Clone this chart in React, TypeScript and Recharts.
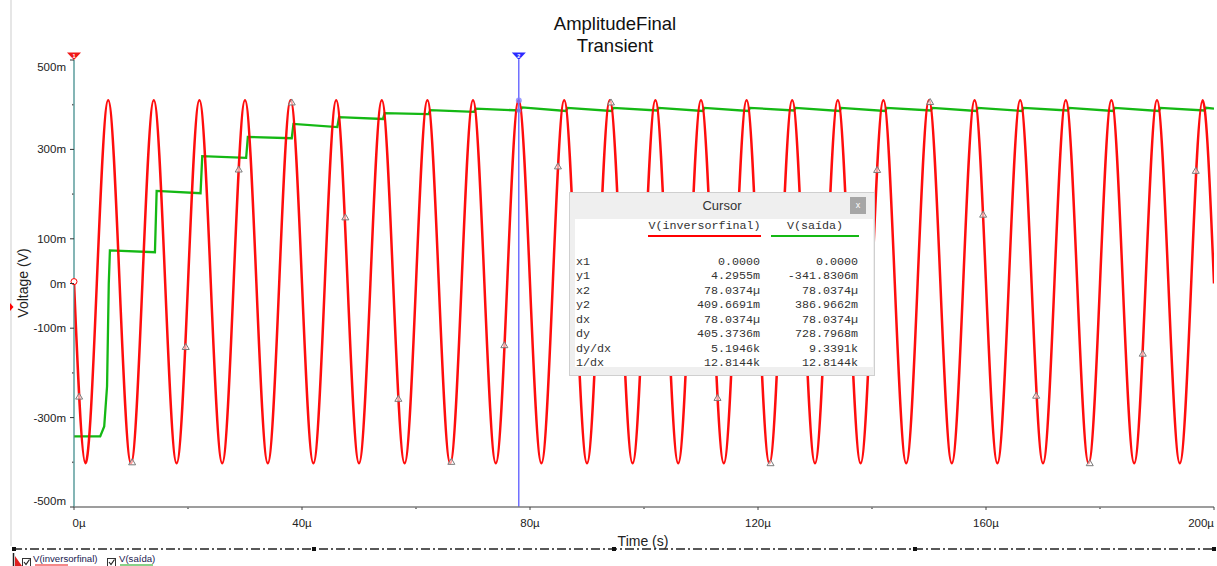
import React from 'react';
import { ComposedChart, Line, XAxis, YAxis, ReferenceLine, ReferenceDot } from 'recharts';

// V(inversorfinal) in mV, one sample every 2 µs
const RED_STEP_US = 2;
const redVoltage = [
  4, -402, 0, 410, 0, -402, 0, 410,
  0, -402, 0, 410, 0, -402, 0, 410,
  0, -402, 0, 410, 0, -402, 0, 410,
  0, -402, 0, 410, 0, -402, 0, 410,
  0, -402, 0, 410, 0, -402, 0, 410,
  0, -402, 0, 410, 0, -402, 0, 410,
  0, -402, 0, 410, 0, -402, 0, 410,
  0, -402, 0, 410, 0, -402, 0, 410,
  0, -402, 0, 410, 0, -402, 0, 410,
  0, -402, 0, 410, 0, -402, 0, 410,
  0, -402, 0, 410, 0, -402, 0, 410,
  0, -402, 0, 410, 0, -402, 0, 410,
  0, -402, 0, 410,
  0,
];

// V(saída) in mV, peak detector output
const greenTime = [
  0, 4.6, 5.3, 5.8, 6.1, 6.3,
  14.2, 14.5, 22.2, 22.5, 30.2, 30.5, 38.2, 38.5,
  46.2, 46.5, 54.2, 54.5, 62.2, 62.5, 70.2, 70.5,
  78.3, 78.6, 86.3, 86.6, 94.3, 94.6, 102.3, 102.6,
  110.3, 110.6, 118.3, 118.6, 126.3, 126.6, 134.3, 134.6,
  142.3, 142.6, 150.3, 150.6, 158.3, 158.6, 166.3, 166.6,
  174.3, 174.6, 182.3, 182.6, 190.3, 190.6, 198.3, 198.6,
  200,
];
const greenVoltage = [
  -342, -342, -320, -230, 0, 74,
  70, 207, 202, 285, 281, 328, 325, 357,
  350, 372, 368, 381, 379, 388, 384, 391,
  387, 394, 386, 393, 386, 393, 387, 393,
  386, 393, 386, 393, 387, 393, 386, 393,
  386, 393, 387, 393, 386, 393, 386, 393,
  387, 393, 386, 393, 386, 393, 387, 393,
  391,
];

// trace markers drawn on V(inversorfinal)
const markerTime = [
  0.9, 10.2, 19.6, 28.9, 38.2, 47.6, 56.9, 66.2, 75.5, 84.9, 94.2,
  103.5, 112.9, 122.2, 131.5, 140.9, 150.2, 159.5, 168.8, 178.2, 187.5, 196.8,
];
const markerVoltage = [
  -253, -400, -142, 255, 405, 148, -258, -399, -138, 262, 405,
  148, -256, -402, -151, 254, 406, 154, -251, -402, -157, 252,
];

const xTickValues = [0, 40, 80, 120, 160, 200];
const xMinorTicks = [20, 60, 100, 140, 180];
const yTickValues = [-500, -300, -100, 0, 100, 300, 500];
const yMinorTicks = [-400, -200, 200, 400];

// cursor readout
const cursorTime = [0, 78.0374];
const cursorRed = [4.2955, 409.6691];
const cursorGreen = [-341.8306, 386.9662];
const tableLabels = ['x1', 'y1', 'x2', 'y2', 'dx', 'dy', 'dy/dx', '1/dx'];
const tableRed = ['0.0000', '4.2955m', '78.0374µ', '409.6691m', '78.0374µ', '405.3736m', '5.1946k', '12.8144k'];
const tableGreen = ['0.0000', '-341.8306m', '78.0374µ', '386.9662m', '78.0374µ', '728.7968m', '9.3391k', '12.8144k'];

const SANS = '"Liberation Sans", Arial, sans-serif';
const MONO = '"Liberation Mono", "Courier New", monospace';
const RED = '#ff0000';
const GREEN = '#14b814';

const redData = redVoltage.map((v, i) => ({ t: i * RED_STEP_US, v }));
const greenData = greenTime.map((t, i) => ({ t, v: greenVoltage[i] }));
const markerData = markerTime.map((t, i) => ({ t, v: markerVoltage[i] }));

const YTick = ({ x, y, payload }: any) => {
  const v = payload.value as number;
  if (!yTickValues.includes(v)) {
    return <rect x={x - 2} y={y - 0.75} width={1.5} height={1.5} fill="#666" />;
  }
  const shift = v === 500 ? 7 : v === -500 ? -6 : 0;
  return (
    <g>
      <line x1={x - 4} x2={x} y1={y} y2={y} stroke="#333" />
      <text x={x - 8} y={y + shift + 4} textAnchor="end" fontSize={11.5} fill="#222" fontFamily={SANS}>
        {v}m
      </text>
    </g>
  );
};

const XTick = ({ x, y, payload }: any) => {
  const v = payload.value as number;
  if (!xTickValues.includes(v)) {
    return <rect x={x - 0.75} y={y + 0.5} width={1.5} height={1.5} fill="#666" />;
  }
  const first = v === xTickValues[0];
  const last = v === xTickValues[xTickValues.length - 1];
  return (
    <g>
      <line x1={x} x2={x} y1={y} y2={y + 3} stroke="#444" />
      <text
        x={first ? x - 1.5 : x}
        y={y + 20}
        textAnchor={first ? 'start' : last ? 'end' : 'middle'}
        fontSize={11.5}
        fill="#222"
        fontFamily={SANS}
      >
        {v}µ
      </text>
    </g>
  );
};

const Flag = ({ cx, cy, color, num }: any) => (
  <g>
    <polygon points={`${cx - 7},${cy - 7.5} ${cx + 7},${cy - 7.5} ${cx},${cy}`} fill={color} />
    <text x={cx} y={cy - 2.5} textAnchor="middle" fontSize={5.5} fill="#fff" fontFamily={SANS} fontWeight="bold">
      {num}
    </text>
  </g>
);

const TraceMarker = (p: any) => (
  <polygon
    key={`m${p.index}`}
    points={`${p.cx},${p.cy - 3.5} ${p.cx - 3.5},${p.cy + 2.5} ${p.cx + 3.5},${p.cy + 2.5}`}
    fill="#fff"
    fillOpacity={0.6}
    stroke="#7a7a7a"
    strokeWidth={1}
  />
);

const CheckBox = ({ x }: { x: number }) => (
  <g>
    <rect x={x} y={558.5} width={8} height={8} fill="#fff" stroke="#333" />
    <path d={`M${x + 1.5},${562} L${x + 3.5},${564.5} L${x + 7},${559.5}`} fill="none" stroke="#222" strokeWidth={1.2} />
  </g>
);

const CursorPanel = () => {
  const rowTop = (i: number) => 36 + i * 14.45;
  const cell: React.CSSProperties = { position: 'absolute', lineHeight: '14px', whiteSpace: 'pre' };
  return (
    <div
      style={{
        position: 'absolute',
        left: 569,
        top: 192,
        width: 306,
        height: 184,
        boxSizing: 'border-box',
        background: '#efefef',
        border: '1px solid #cfcfcf',
        fontFamily: SANS,
      }}
    >
      <div style={{ position: 'absolute', left: 0, right: 0, top: 5, textAlign: 'center', fontSize: 13, color: '#333' }}>
        Cursor
      </div>
      <div
        style={{
          position: 'absolute',
          left: 280,
          top: 4,
          width: 16,
          height: 17,
          background: '#a6a6a6',
          color: '#fff',
          fontSize: 9,
          lineHeight: '16px',
          textAlign: 'center',
        }}
      >
        x
      </div>
      <div
        style={{
          position: 'absolute',
          left: 5,
          top: 26,
          width: 298,
          height: 148,
          background: '#fff',
          fontFamily: MONO,
          fontSize: 11.7,
          color: '#333',
        }}
      >
        <div style={{ ...cell, left: 73, width: 113, top: 0, textAlign: 'center' }}>V(inversorfinal)</div>
        <div style={{ ...cell, left: 196, width: 88, top: 0, textAlign: 'center' }}>V(saída)</div>
        <div style={{ position: 'absolute', left: 73, top: 16, width: 113, height: 2, background: RED }} />
        <div style={{ position: 'absolute', left: 196, top: 16, width: 88, height: 2, background: GREEN }} />
        {tableLabels.map((label, i) => (
          <React.Fragment key={label}>
            <div style={{ ...cell, left: 1, top: rowTop(i) }}>{label}</div>
            <div style={{ ...cell, left: 0, width: 185, top: rowTop(i), textAlign: 'right' }}>{tableRed[i]}</div>
            <div style={{ ...cell, left: 0, width: 283, top: rowTop(i), textAlign: 'right' }}>{tableGreen[i]}</div>
          </React.Fragment>
        ))}
      </div>
    </div>
  );
};

export default function App() {
  return (
    <div style={{ position: 'fixed', left: 0, top: 0, width: 1217, height: 566, overflow: 'hidden', background: '#fff' }}>
      <ComposedChart width={1217} height={566} margin={{ top: 60, right: 3, bottom: 0, left: 0 }}>
        <XAxis
          type="number"
          dataKey="t"
          domain={[0, 200]}
          ticks={[...xTickValues, ...xMinorTicks].sort((a, b) => a - b)}
          interval={0}
          allowDataOverflow
          height={59}
          tickSize={0}
          tickMargin={0}
          tickLine={false}
          tick={<XTick />}
          axisLine={{ stroke: '#7c7c7c', strokeWidth: 1.5 }}
        />
        <YAxis
          type="number"
          domain={[-500, 500]}
          ticks={[...yTickValues, ...yMinorTicks].sort((a, b) => a - b)}
          interval={0}
          allowDataOverflow
          width={74}
          tickSize={0}
          tickMargin={0}
          tickLine={false}
          tick={<YTick />}
          axisLine={{ stroke: '#7c7c7c' }}
        />
        <ReferenceLine x={cursorTime[0]} stroke="#3fe3e3" strokeWidth={1.2} ifOverflow="visible" />
        <Line
          data={greenData}
          dataKey="v"
          type="linear"
          stroke={GREEN}
          strokeWidth={2.3}
          dot={false}
          isAnimationActive={false}
        />
        <Line
          data={redData}
          dataKey="v"
          type="natural"
          stroke={RED}
          strokeWidth={2.5}
          strokeOpacity={0.95}
          dot={false}
          isAnimationActive={false}
        />
        <Line
          data={markerData}
          dataKey="v"
          stroke="none"
          dot={TraceMarker}
          isAnimationActive={false}
        />
        <ReferenceLine x={cursorTime[1]} stroke="#4b4bff" strokeWidth={1.2} ifOverflow="visible" />
        <ReferenceDot
          x={cursorTime[0]}
          y={cursorRed[0]}
          r={3}
          fill="#fff"
          stroke={RED}
          strokeWidth={1}
          ifOverflow="visible"
        />
        <ReferenceDot
          x={cursorTime[1]}
          y={cursorGreen[1]}
          r={2.5}
          fill="#7f7fff"
          fillOpacity={0.7}
          stroke="none"
          ifOverflow="visible"
        />
        <ReferenceDot
          x={cursorTime[1]}
          y={cursorRed[1]}
          r={3}
          fill="#7f7fff"
          fillOpacity={0.75}
          stroke="none"
          ifOverflow="visible"
        />
        <ReferenceDot
          x={cursorTime[0]}
          y={500}
          r={0}
          ifOverflow="visible"
          shape={(p: any) => <Flag cx={p.cx} cy={p.cy} color="#f01818" num="1" />}
        />
        <ReferenceDot
          x={cursorTime[1]}
          y={500}
          r={0}
          ifOverflow="visible"
          shape={(p: any) => <Flag cx={p.cx} cy={p.cy} color="#2a2aff" num="2" />}
        />
      </ComposedChart>

      <svg
        width={1217}
        height={566}
        style={{ position: 'absolute', left: 0, top: 0, pointerEvents: 'none' }}
        fontFamily={SANS}
      >
        <line x1={11} x2={11} y1={0} y2={546} stroke="#e6e6e6" strokeWidth={2} />
        <text x={615} y={30} textAnchor="middle" fontSize={18.5} fill="#111">AmplitudeFinal</text>
        <text x={615} y={52} textAnchor="middle" fontSize={18.5} fill="#111">Transient</text>
        <text
          transform="translate(28,283) rotate(-90)"
          textAnchor="middle"
          fontSize={14}
          fill="#222"
        >
          Voltage (V)
        </text>
        <polygon points="10,303 13.5,307 10,311" fill={RED} />
        <text x={643} y={546} textAnchor="middle" fontSize={14} fill="#222">Time (s)</text>

        <line x1={13} x2={1214} y1={549} y2={549} stroke="#222" strokeWidth={1.3} strokeDasharray="9 3 2 3" />
        {[14, 314, 614, 915, 1214].map((x) => (
          <rect key={x} x={x - 2} y={547} width={4} height={4} fill="#111" />
        ))}

        <line x1={13.5} x2={13.5} y1={553} y2={566} stroke="#222" strokeWidth={1.5} />
        <polygon points="15,556 22,566 15,566" fill="#e02020" />
        <CheckBox x={22.5} />
        <text x={33} y={561.5} fontSize={9.6} fill="#202050">V(inversorfinal)</text>
        <line x1={35} x2={68} y1={565} y2={565} stroke="#f06060" strokeWidth={1.5} />
        <CheckBox x={107.5} />
        <text x={119} y={561.5} fontSize={9.6} fill="#202050">V(saída)</text>
        <line x1={120} x2={153} y1={565} y2={565} stroke="#60c060" strokeWidth={1.5} />
      </svg>

      <CursorPanel />
    </div>
  );
}
